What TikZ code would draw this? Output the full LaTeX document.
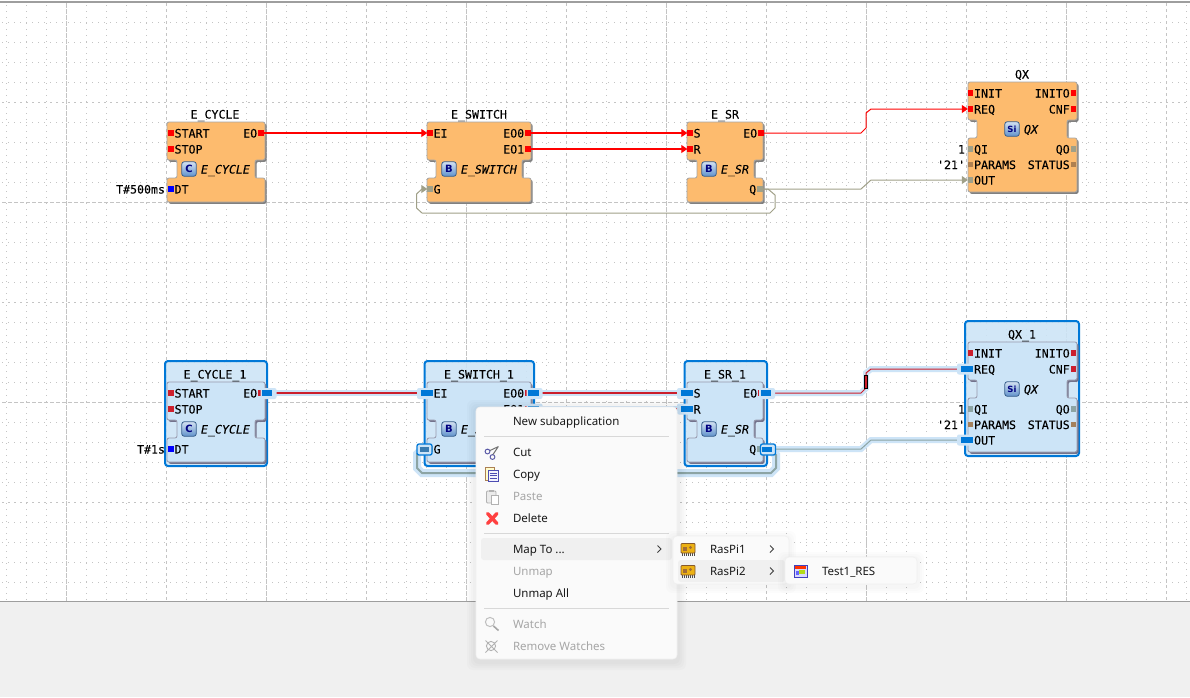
\documentclass[tikz,border=0pt]{standalone}
\usepackage{fontspec}
\setmainfont{Noto Sans}
\setmonofont{DejaVu Sans Mono}[FakeBold=0.12]
\newfontfamily\icf{DejaVu Sans}
\usetikzlibrary{arrows.meta,calc}
\definecolor{gridc}{HTML}{C4C4C4}
\definecolor{orangefb}{HTML}{FDBB6E}
\definecolor{selfill}{HTML}{CCE4F7}
\definecolor{selblue}{HTML}{0078D7}
\definecolor{halo}{HTML}{CDE4F7}
\definecolor{boolwire}{HTML}{A0A088}
\definecolor{boolsel}{HTML}{8CA4A4}
\definecolor{menubg}{HTML}{FAFAFA}
\definecolor{menuhi}{HTML}{F0F0F0}
\definecolor{sepc}{HTML}{D8D8D8}
\definecolor{dis}{HTML}{A6A6A6}
\definecolor{iconb}{HTML}{4F86C6}
\definecolor{wireR}{HTML}{FF0000}
\definecolor{wireRs}{HTML}{CC1F2D}
\tikzset{
  port/.style={draw=none,minimum width=5.4pt,minimum height=5.4pt,inner sep=0pt,outer sep=0pt},
  lbl/.style={inner sep=0pt,outer sep=0pt,text=black,font=\ttfamily\fontsize{11.6}{13}\selectfont},
  typ/.style={lbl,font=\ttfamily\itshape\fontsize{11.6}{13}\selectfont},
  icn/.style={draw=iconb!70!black,line width=.8pt,rounded corners=2.5pt,top color=iconb!25,bottom color=iconb!90,minimum width=14.5pt,minimum height=14.5pt,inner sep=0pt,text=blue!50!black,font=\icf\bfseries\fontsize{10}{10}\selectfont},
  wr/.style={draw=wireR,line width=1pt,-{Triangle[length=6pt,width=8pt,fill=wireR]}},
  wb/.style={draw=boolwire,line width=1pt,-{Triangle[length=6pt,width=8pt,fill=boolwire]}},
  wrs/.style={draw=wireRs,line width=1pt,-{Triangle[length=6pt,width=8pt,fill=wireRs]}},
  wbs/.style={draw=boolsel,line width=1pt,-{Triangle[length=6pt,width=8pt,fill=boolsel]}},
  wbt/.style={draw=boolsel,line width=2pt,-{Triangle[length=6pt,width=8pt,fill=boolsel]}},
  hw/.style={draw=halo,line width=#1},
  hdl/.style={fill=selblue,draw=none,minimum width=#1,minimum height=5.5pt,inner sep=0pt},
  hl/.style={fill=halo,draw=none,rounded corners=2pt,minimum width=16pt,minimum height=11pt,inner sep=0pt},
  selbox/.style={draw=selblue,line width=2pt,fill=selfill,fill opacity=.88,rounded corners=3pt},
  item/.style={anchor=base west,inner sep=0pt,outer sep=0pt,text=black!90,font=\fontsize{11.5}{13}\selectfont},
  itemd/.style={item,text=dis},
  mbox/.style={fill=menubg,draw=black!6,line width=.6pt,rounded corners=4pt},
  sep/.style={draw=sepc,line width=.9pt},
  chev/.style={draw=black!75,line width=.9pt},
}
\colorlet{fbc}{orangefb}
\colorlet{fbline}{black!35}
\colorlet{fbshadow}{black!50}
\colorlet{evc}{red}
\colorlet{boolc}{boolwire}
\colorlet{anyc}{brown!75!gray}
% straight wire: style, colour, from, to
\newcommand{\wireS}[4]{%
  \draw[#1] (#3.east) -- (#4.west);
  \fill[#2] ([yshift=.6pt]#3.east) rectangle ([yshift=-.6pt,xshift=-3pt]#4.west);}
% block shape: left neckL neckR right top y2 y3 bottom
\newcommand{\fbshape}[8]{%
  \fill[fbshadow,rounded corners=2pt,xshift=1.6pt,yshift=-1.8pt]
    (#1,#5) -- (#4,#5) -- (#4,#6) -- (#3,#6) -- (#3,#7) -- (#4,#7) -- (#4,#8) -- (#1,#8) -- (#1,#7) -- (#2,#7) -- (#2,#6) -- (#1,#6) -- cycle;
  \draw[fill=fbc,draw=fbline,line width=.8pt,rounded corners=2pt]
    (#1,#5) -- (#4,#5) -- (#4,#6) -- (#3,#6) -- (#3,#7) -- (#4,#7) -- (#4,#8) -- (#1,#8) -- (#1,#7) -- (#2,#7) -- (#2,#6) -- (#1,#6) -- cycle;}
\newcommand{\pL}[5]{% name x y colour label
  \node[port,fill=#4] (#1) at (#2,#3) {};
  \node[lbl,anchor=base west] (#1t) at ($(#2,#3)+(3.6,4.5)$) {#5};}
\newcommand{\pR}[5]{%
  \node[port,fill=#4] (#1) at (#2,#3) {};
  \node[lbl,anchor=base east] (#1t) at ($(#2,#3)+(-3.8,4.5)$) {#5};}
\newcommand{\val}[4]{\node[lbl,anchor=base east] (#1) at ($(#2,#3)+(0,4.5)$) {#4};}
\newcommand{\ecycle}[3]{%
  \fbshape{167}{177}{255}{265}{122}{160}{178}{202}
  \node[lbl,anchor=base] (#1title) at (215,118.5) {#2};
  \pL{#1START}{171}{133}{evc}{START}
  \pL{#1STOP}{171}{149}{evc}{STOP}
  \pL{#1DT}{171}{189}{blue}{DT}
  \pR{#1EO}{261}{133}{evc}{EO}
  \val{#1v}{165}{189}{#3}
  \node[icn] (#1ic) at (189,169) {C};
  \node[typ,anchor=base west] (#1ty) at (201,173.5) {E\_CYCLE};}
\newcommand{\eswitch}[2]{%
  \fbshape{427}{436}{522}{531}{122}{160}{178}{202}
  \node[lbl,anchor=base] (#1title) at (479,118.5) {#2};
  \pL{#1EI}{430}{133}{evc}{EI}
  \pL{#1G}{430}{189}{boolc}{G}
  \pR{#1EOa}{528}{133}{evc}{EO0}
  \pR{#1EOb}{528}{149}{evc}{EO1}
  \node[icn] (#1ic) at (449,169) {B};
  \node[typ,anchor=base west] (#1ty) at (461,173.5) {E\_SWITCH};}
\newcommand{\esr}[2]{%
  \fbshape{687}{697}{754}{763}{122}{160}{178}{202}
  \node[lbl,anchor=base] (#1title) at (725,118.5) {#2};
  \pL{#1S}{690}{133}{evc}{S}
  \pL{#1R}{690}{149}{evc}{R}
  \pR{#1EO}{761}{133}{evc}{EO}
  \pR{#1Q}{760}{189}{boolc}{Q}
  \node[icn] (#1ic) at (709,169) {B};
  \node[typ,anchor=base west] (#1ty) at (721,173.5) {E\_SR};}
\newcommand{\qx}[2]{%
  \fbshape{968}{977}{1067}{1077}{82}{120}{138}{192}
  \node[lbl,anchor=base] (#1title) at (1022,78.5) {#2};
  \pL{#1INIT}{970.5}{93}{evc}{INIT}
  \pL{#1REQ}{970.5}{109}{evc}{REQ}
  \pL{#1QI}{970.5}{149}{boolc}{QI}
  \pL{#1PA}{970.5}{164.5}{anyc}{PARAMS}
  \pL{#1OUT}{970.5}{180}{boolc}{OUT}
  \pR{#1INITO}{1073.5}{93}{evc}{INITO}
  \pR{#1CNF}{1073.5}{109}{evc}{CNF}
  \pR{#1QO}{1073.5}{149}{boolc}{QO}
  \pR{#1ST}{1073.5}{164.5}{anyc}{STATUS}
  \val{#1va}{965}{149}{1}
  \val{#1vb}{965}{164.5}{'21'}
  \node[icn] (#1ic) at (1012,129) {\fontsize{8.5}{8.5}\selectfont Si};
  \node[typ,anchor=base west] (#1ty) at (1024,133.5) {QX};}
\newcommand{\chip}[2]{%
  \foreach \px in {-6,-4,...,6} \draw[black!70,line width=.7pt] (#1+\px,#2+4) -- (#1+\px,#2+6.5);
  \draw[draw=brown!70!black,fill=orange!45!yellow!70!brown,line width=.8pt,rounded corners=.8pt] (#1-7,#2-5.5) rectangle (#1+7,#2+4);
  \fill[brown!85!black] (#1-5,#2-2.5) rectangle (#1-1,#2+2);
  \fill[brown!85!black] (#1+2.5,#2-1.5) circle (1.6pt);}
\begin{document}
\begin{tikzpicture}[x=1pt,y=-1pt]
\useasboundingbox (0,0) rectangle (1190,697);
\fill[white] (0,0) rectangle (1190,697);
% grid
\foreach \a in {6,106,...,1106} \foreach \b in {0,20,40,80}
  \draw[gridc,line width=1pt,dash pattern=on 1pt off 5pt] (\a+\b,5) -- (\a+\b,601);
\foreach \a in {2,102,...,502} \foreach \b in {20,40,60,80}
  \draw[gridc,line width=1pt,dash pattern=on 1pt off 5pt] (2,\a+\b) -- (1190,\a+\b);
\foreach \x in {66,266,...,1066}
  \draw[gridc,line width=1pt,dash pattern=on 4.5pt off 1.5pt] (\x,3) -- (\x,601);
\foreach \x in {166,366,...,1166}
  \draw[gridc,line width=1pt,dash pattern=on 3pt off 3pt] (\x,3) -- (\x,601);
\foreach \y in {202,402}
  \draw[gridc,line width=1pt,dash pattern=on 4pt off 2pt] (2,\y) -- (1190,\y);
\foreach \y in {102,302,502}
  \draw[gridc,line width=1pt,dash pattern=on 2pt off 4pt] (2,\y) -- (1190,\y);
\fill[menuhi] (0,601.5) rectangle (1190,697);
\draw[black!38,line width=1.2pt] (0,2) -- (1190,2);
\draw[black!38,line width=1.2pt] (0,601.5) -- (1190,601.5);
% top row
\ecycle{a}{E\_CYCLE}{T\#500ms}
\eswitch{b}{E\_SWITCH}
\esr{c}{E\_SR}
\qx{d}{QX}
\wireS{wr}{wireR}{aEO}{bEI}
\wireS{wr}{wireR}{bEOa}{cS}
\wireS{wr}{wireR}{bEOb}{cR}
\draw[wr] (cEO) -- (861,133) -- (866,128) -- (866,113) -- (871,109) -- (dREQ);
\draw[wb] (cQ) -- (861,189) -- (871,180) -- (dOUT);
\draw[wb] (cQ) -- (768,189) -- (775,195) -- (775,208) -- (770,213) -- (422,213) -- (416.5,208) -- (416.5,194) -- (422,189) -- (bG);
% bottom row selection frames
\draw[selbox] (165,361) rectangle (267,466);
\draw[selbox] (424.5,361) rectangle (534,466);
\draw[selbox] (684.5,361) rectangle (767,466);
\draw[selbox] (965,321) rectangle (1079,456);
\begin{scope}[yshift=-260pt]
\colorlet{fbc}{selfill}
\colorlet{fbline}{black!30!blue!15!gray!70}
\colorlet{fbshadow}{blue!10!gray}
\colorlet{evc}{wireRs}
\colorlet{boolc}{boolsel}
\colorlet{anyc}{brown!55!gray}
\ecycle{e}{E\_CYCLE\_1}{T\#1s}
\eswitch{f}{E\_SWITCH\_1}
\esr{g}{E\_SR\_1}
\qx{h}{QX\_1}
\end{scope}
% bottom row wire halos
\draw[hw=6pt] (eEO) -- (fEI);
\draw[hw=6pt] (fEOa) -- (gS);
\draw[hw=6pt] (fEOb) -- (gR);
\draw[hw=6pt] (gEO) -- (861,393) -- (866,388) -- (866,373) -- (871,369) -- (hREQ);
\draw[hw=6pt] (gQ) -- (861,449) -- (871,440) -- (hOUT);
\draw[hw=8pt] (gQ) -- (768,449) -- (776,455) -- (776,468) -- (771,473) -- (422,473) -- (417,468) -- (417,454) -- (422,449) -- (fG);
% bottom row wires
\wireS{wrs}{wireRs}{eEO}{fEI}
\wireS{wrs}{wireRs}{fEOa}{gS}
\wireS{wrs}{wireRs}{fEOb}{gR}
\draw[wrs] (gEO) -- (861,393) -- (866,388) -- (866,373) -- (871,369) -- (hREQ);
\draw[wbs] (gQ) -- (861,449) -- (871,440) -- (hOUT);
\draw[wbt] (gQ) -- (768,449) -- (776,455) -- (776,468) -- (771,473) -- (422,473) -- (417,468) -- (417,454) -- (422,449) -- (fG);
\node[fill=wireRs,draw=black,line width=.9pt,minimum width=3pt,minimum height=13pt,inner sep=0pt] (mid) at (866,382) {};
% handles
\node[hl] (h1) at (268.5,393.5) {}; \node[hdl=10pt] (k1) at (267,393) {};
\node[hl] (h2) at (425,393.5) {}; \node[hdl=12pt] (k2) at (427,393) {};
\node[hl] (h3) at (534.5,393.5) {}; \node[hdl=11pt] (k3) at (533.5,393) {};
\node[hl] (h4) at (534.5,409) {}; \node[hdl=11pt] (k4) at (533.5,409) {};
\node[hl] (h5) at (685,393.5) {}; \node[hdl=12pt] (k5) at (687,393) {};
\node[hl] (h6) at (685,409) {}; \node[hdl=12pt] (k6) at (687,409) {};
\node[hl] (h7) at (767,393.5) {}; \node[hdl=10pt] (k7) at (766,393) {};
\node[hl] (h8) at (965,369) {}; \node[hdl=12pt] (k8) at (967,369) {};
\node[hl] (h9) at (965,440) {}; \node[hdl=12pt] (k9) at (967,440) {};
\node[hl,draw=selblue,line width=1.3pt,minimum width=15pt] (g1) at (424.5,449.5) {};
\node[hdl=9pt,fill=selblue!55!gray] (g2) at (424,449.5) {};
\node[hl,draw=selblue,line width=1.3pt,minimum width=15pt] (g3) at (768,449.5) {};
\node[hdl=10pt] (g4) at (767,449.5) {};
% menu shadows
\foreach \s in {9,7,5,3}
  \fill[black,opacity=.014,rounded corners=6pt] (476-\s,407-\s+2) rectangle (677+\s,659+\s+2);
\draw[mbox] (476,407) rectangle (677,659);
\node[item] (m1) at (513,425.5) {New subapplication};
\draw[sep] (484,436.5) -- (669,436.5);
\node[item] (m2) at (513,456.5) {Cut};
\node[item] (m3) at (513,478.5) {Copy};
\node[itemd] (m4) at (513,500.5) {Paste};
\node[item] (m5) at (513,522.5) {Delete};
\draw[sep] (484,533.5) -- (669,533.5);
\fill[menuhi,rounded corners=3pt] (481,538) rectangle (672,560);
\node[item] (m6) at (513,553.5) {Map To ...};
\draw[chev] (657.5,545.5) -- (661,549) -- (657.5,552.5);
\node[itemd] (m7) at (513,575.5) {Unmap};
\node[item] (m8) at (513,597.5) {Unmap All};
\draw[sep] (484,608.5) -- (669,608.5);
\node[itemd] (m9) at (513,628.5) {Watch};
\node[itemd] (m10) at (513,650.5) {Remove Watches};
% cut icon
\draw[blue!30!gray,line width=1pt] (487.5,451.5) circle (2.4pt) (492.5,457) circle (2.4pt);
\draw[black!55,line width=1pt] (490,450.5) -- (498.5,446.5) (493,454.5) -- (498,447);
% copy icon
\draw[brown!70!gray,fill=yellow!20!white,line width=.8pt] (485.5,467.5) rectangle (494,480);
\draw[blue!40!gray,fill=blue!5,line width=.8pt] (488.5,470) rectangle (498,481);
\draw[blue!40!gray,line width=.6pt] (490,473) -- (496.5,473) (490,475.5) -- (496.5,475.5) (490,478) -- (496.5,478);
% paste icon
\draw[black!30,fill=black!8,line width=.8pt,rounded corners=1pt] (486.5,491) rectangle (496,503);
\fill[black!30] (489,489.5) rectangle (493.5,492);
\draw[black!30,fill=white,line width=.7pt] (491,495) rectangle (498.5,504);
% delete icon
\draw[red!75!white,line width=3.4pt,line cap=round] (487.5,513.5) -- (497,523.5) (497,513.5) -- (487.5,523.5);
% watch icon
\draw[black!25,line width=1pt] (490,622) circle (4.6pt);
\draw[black!35,line width=1.6pt] (493.5,626) -- (498.5,630.5);
% remove watches icon
\draw[black!30,line width=.9pt] (491,646) circle (4.6pt) (485.5,640.5) -- (497.5,652.5) (497.5,640.5) -- (485.5,652.5);
% submenu
\foreach \s in {7,5,3}
  \fill[black,opacity=.012,rounded corners=6pt] (673-\s,536-\s+2) rectangle (789+\s,584+\s+2);
\draw[mbox] (673,536) rectangle (789,584);
\fill[menuhi,rounded corners=3pt] (678,560) rectangle (785,582);
\chip{688}{549}
\chip{688}{571}
\node[item] (s1) at (710,553.5) {RasPi1};
\node[item] (s2) at (710,575.5) {RasPi2};
\draw[chev] (770,545.5) -- (773.5,549) -- (770,552.5);
\draw[chev] (770,567.5) -- (773.5,571) -- (770,574.5);
% sub-submenu
\foreach \s in {7,5,3}
  \fill[black,opacity=.012,rounded corners=6pt] (785-\s,557-\s+2) rectangle (917+\s,584+\s+2);
\draw[mbox] (785,557) rectangle (917,584);
\draw[blue!50!gray,fill=blue!15,line width=.8pt] (794,565) rectangle (807,577);
\fill[red!60!orange] (795,566) rectangle (806,568.5);
\fill[yellow!70!green] (799,570) rectangle (805,574);
\fill[blue!60] (796,571) rectangle (799,575);
\node[item] (t1) at (822,575.5) {Test1\_RES};
\end{tikzpicture}
\end{document}
